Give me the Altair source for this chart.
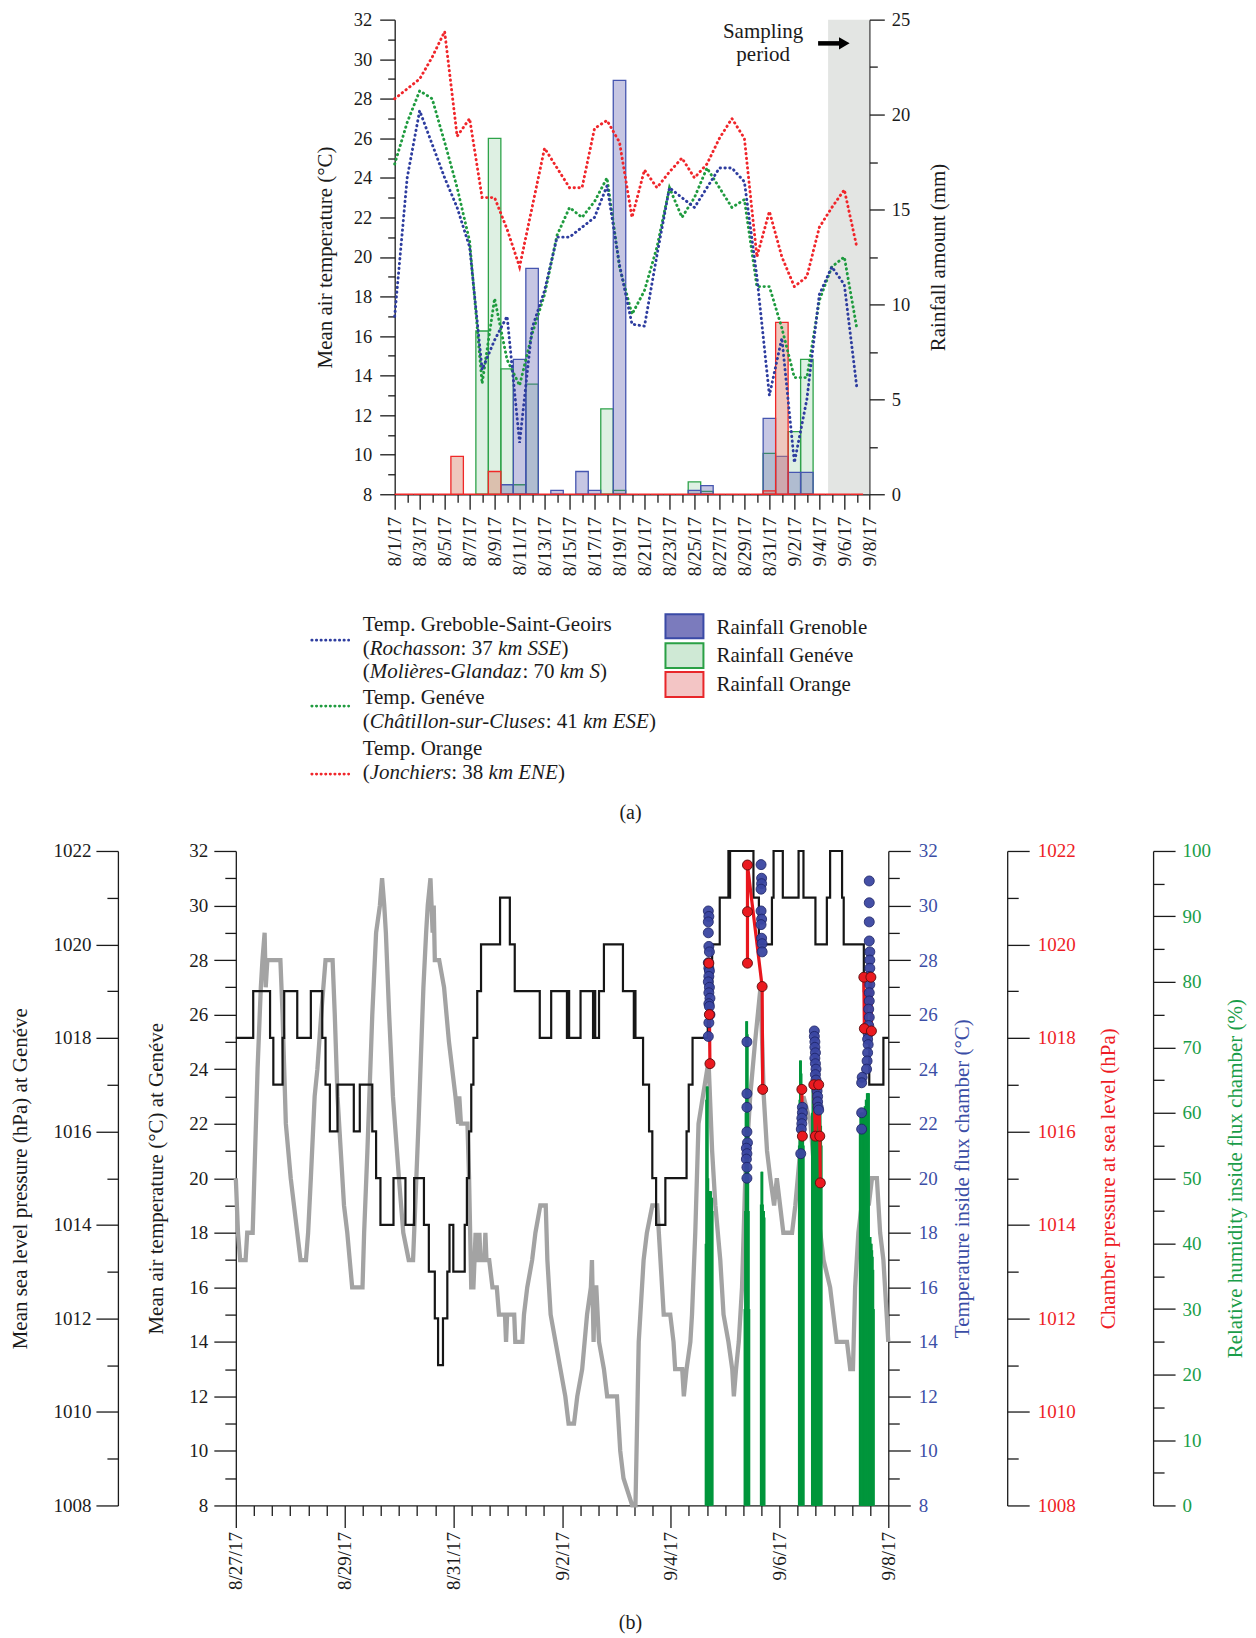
import json
import altair as alt
import pandas as pd

FONT = "Liberation Serif"
INK = "#1b1b1b"

# ====================== Panel (a): 8/1/17 - 9/8/17 ======================
A_TICK_LABELS = ["8/1/17", "8/3/17", "8/5/17", "8/7/17", "8/9/17", "8/11/17", "8/13/17",
                 "8/15/17", "8/17/17", "8/19/17", "8/21/17", "8/23/17", "8/25/17", "8/27/17",
                 "8/29/17", "8/31/17", "9/2/17", "9/4/17", "9/6/17", "9/8/17"]
A_DAYS = list(range(38))  # day offset from 8/1/17
TEMP_GRENOBLE = [17.0, 24.0, 27.4, 25.7, 24.0, 22.5, 20.5, 14.3, 15.8, 17.0, 10.6, 16.4, 18.3,
                 21.0, 21.0, 21.5, 22.0, 23.6, 19.6, 16.6, 16.5, 20.1, 23.5, 23.0, 22.5, 23.5,
                 24.5, 24.5, 23.8, 19.0, 13.0, 15.9, 9.6, 12.8, 18.1, 19.5, 18.6, 13.4]
TEMP_GENEVE = [24.7, 26.8, 28.4, 28.0, 25.8, 23.5, 20.8, 13.6, 17.9, 14.8, 13.5, 16.1, 18.1,
               21.1, 22.5, 22.0, 22.8, 24.0, 19.5, 17.1, 18.3, 20.5, 23.5, 22.0, 23.0, 24.5,
               23.5, 22.5, 22.9, 18.5, 18.5, 16.4, 13.9, 13.9, 17.8, 19.5, 20.0, 16.4]
TEMP_ORANGE = [28.0, 28.5, 29.0, 30.1, 31.4, 26.1, 27.0, 23.0, 23.0, 21.4, 19.5, 22.5, 25.5,
               24.5, 23.5, 23.5, 26.5, 26.9, 25.8, 22.0, 24.4, 23.5, 24.3, 25.0, 24.0, 24.7,
               26.0, 27.0, 26.0, 20.0, 22.3, 20.0, 18.5, 19.0, 21.5, 22.5, 23.4, 20.5]
RAIN_GRENOBLE = [0, 0, 0, 0, 0, 0, 0, 0, 0, 0.5, 7.1, 11.9, 0, 0.2, 0, 1.2, 0.2, 0, 21.8,
                 0, 0, 0, 0, 0, 0.2, 0.45, 0, 0, 0, 0, 4.0, 2.0, 1.15, 1.15, 0, 0, 0, 0]
RAIN_GENEVE = [0, 0, 0, 0, 0, 0, 0, 8.6, 18.75, 6.6, 0.5, 5.8, 0, 0, 0, 0, 0, 4.5, 0.2,
               0, 0, 0, 0, 0, 0.65, 0.15, 0, 0, 0, 0, 2.15, 0, 3.3, 7.1, 0, 0, 0, 0]
RAIN_ORANGE = [0, 0, 0, 0, 0, 2.0, 0, 0, 1.2, 0, 0, 0, 0, 0, 0, 0, 0, 0, 0,
               0, 0, 0, 0, 0, 0, 0, 0, 0, 0, 0, 0.18, 9.05, 0, 0, 0, 0, 0, 0]
SAMPLING_PERIOD = [34.7, 38.0]
NOTE_TEXT = "Sampling\nperiod"
NOTE_POS = [29.5, 31.35]
ARROW_SHAFT = [33.9, 35.7, 30.8]
ARROW_HEAD = [36.0, 30.8]

STATIONS = ["Genève", "Grenoble", "Orange"]
LINE_COLORS = ["#1f9b3f", "#2e3d9f", "#f0262b"]
BAR_FILL = ["#7cc48e", "#5a5aae", "#d9826b"]
BAR_FILL_OP = [0.25, 0.44, 0.32]
BAR_STROKE = ["#2ea34a", "#4656b0", "#f02828"]

# ====================== Panel (b): 8/27/17 - 9/8/17 ======================
B_TICK_LABELS = ["8/27/17", "8/29/17", "8/31/17", "9/2/17", "9/4/17", "9/6/17", "9/8/17"]
# Geneva air temperature (deg C), day offset from 8/27/17 00:00
GRAY_D = [0.00, 0.04, 0.08, 0.18, 0.21, 0.31, 0.34, 0.40, 0.46, 0.49, 0.53, 0.55, 0.58, 0.82,
          0.86, 0.89, 0.92, 1.01, 1.07, 1.13, 1.19, 1.29, 1.33, 1.38, 1.45, 1.50, 1.57, 1.65,
          1.78, 1.82, 1.87, 1.93, 1.99, 2.05, 2.14, 2.33, 2.36, 2.42, 2.51, 2.58, 2.65, 2.69,
          2.73, 2.76, 2.82, 2.89, 3.00, 3.08, 3.18, 3.26, 3.30, 3.36, 3.45, 3.50, 3.53, 3.58,
          3.62, 3.64, 3.66, 3.74, 3.83, 3.92, 4.04, 4.09, 4.11, 4.14, 4.26, 4.29, 4.33, 4.37,
          4.41, 4.43, 4.46, 4.48, 4.50, 4.57, 4.59, 4.61, 4.66, 4.72, 4.80, 4.84, 4.95, 4.97,
          4.99, 5.12, 5.14, 5.27, 5.30, 5.36, 5.45, 5.51, 5.60, 5.70, 5.73, 5.79, 5.88, 5.97,
          6.06, 6.12, 6.22, 6.28, 6.37, 6.46, 6.53, 6.55, 6.58, 6.60, 6.63, 6.68, 6.77, 6.83,
          7.01, 7.07, 7.13, 7.29, 7.35, 7.41, 7.50, 7.56, 7.66, 7.75, 7.87, 7.99, 8.05, 8.08,
          8.21, 8.24, 8.29, 8.36, 8.39, 8.45, 8.51, 8.67, 8.70, 8.76, 8.82, 8.91, 8.97, 9.06,
          9.13, 9.16, 9.20, 9.25, 9.31, 9.37, 9.46, 9.55, 9.65, 9.71, 9.77, 9.83, 9.90, 9.95,
          10.01, 10.07, 10.23, 10.29, 10.38, 10.44, 10.57, 10.69, 10.81, 10.93, 11.05, 11.24,
          11.30, 11.35, 11.39, 11.45, 11.51, 11.58, 11.64, 11.70, 11.79, 11.85, 11.91, 11.97,
          12.00]
GRAY_T = [20, 18, 17, 17, 18, 18, 20, 24, 27, 28, 29, 27, 28, 28,
          26, 24, 22, 20, 19, 18, 17, 17, 18, 20, 23, 24, 26, 28,
          28, 26, 23, 21, 19, 18, 16, 16, 18, 21, 26, 29, 30, 31,
          30, 29, 26, 23, 20, 18, 17, 17, 19, 22, 27, 29, 30, 31,
          29, 30, 28, 28, 27, 25, 23, 22, 23, 22, 22, 20, 16, 16,
          18, 17, 17, 18, 17, 17, 18, 17, 17, 16, 16, 15, 15, 14,
          15, 15, 14, 14, 15, 16, 17, 18, 19, 19, 17, 15, 14, 13,
          12, 11, 11, 12, 13, 15, 16, 17, 14, 16, 16, 14, 13, 12,
          12, 10, 9, 8, 8, 14, 17, 18, 19, 19, 15, 15, 14, 13,
          13, 12, 13, 14, 15, 18, 22, 24, 24, 21, 19, 17, 15, 14,
          13, 12, 13, 14, 16, 20, 23, 25, 27, 23, 21, 20, 19, 20,
          19, 18, 18, 19, 21, 23, 22, 19, 17, 16, 14, 14,
          13, 13, 16, 18, 19, 20, 19, 20, 20, 18, 17, 15,
          14]
# Geneva mean sea level pressure (hPa), stepped
PRESS_D = [0.00, 0.32, 0.63, 0.69, 0.86, 0.89, 1.13, 1.38, 1.59, 1.65, 1.73, 1.87, 2.17, 2.28,
           2.51, 2.58, 2.66, 2.90, 3.12, 3.28, 3.46, 3.55, 3.66, 3.72, 3.81, 3.89, 3.93, 4.00,
           4.21, 4.25, 4.29, 4.33, 4.37, 4.44, 4.51, 4.86, 5.04, 5.13, 5.59, 5.80, 6.09, 6.11,
           6.13, 6.34, 6.57, 6.60, 6.61, 6.68, 6.77, 7.12, 7.32, 7.34, 7.35, 7.49, 7.60, 7.66,
           7.73, 7.90, 8.29, 8.33, 8.40, 8.68, 8.76, 8.90, 9.06, 9.08, 9.09, 9.52, 9.62, 9.86,
           9.89, 10.06, 10.35, 10.44, 10.66, 10.87, 10.93, 11.15, 11.18, 11.55, 11.60, 11.65,
           11.91, 12.00]
PRESS_P = [1018, 1019, 1018, 1017, 1018, 1019, 1018, 1019, 1018, 1017, 1016, 1017, 1016, 1017,
           1016, 1015, 1014, 1015, 1014, 1015, 1014, 1013, 1012, 1011, 1012, 1013, 1014, 1013,
           1014, 1015, 1016, 1017, 1018, 1019, 1020, 1021, 1020, 1019, 1018, 1019, 1018, 1019,
           1018, 1019, 1018, 1019, 1018, 1019, 1020, 1019, 1018, 1019, 1018, 1017, 1016, 1015,
           1014, 1015, 1016, 1017, 1018, 1019, 1020, 1021, 1022, 1021, 1022, 1021, 1020, 1021,
           1022, 1021, 1022, 1021, 1020, 1021, 1022, 1021, 1020, 1019, 1018, 1017,
           1018, 1018]
# Temperature inside flux chamber (deg C)
CHT_D = [8.69, 8.70, 8.69, 8.69, 8.70, 8.71, 8.69, 8.70, 8.71, 8.70, 8.69, 8.71, 8.70, 8.72,
         8.70, 8.71, 8.72, 8.70, 8.69,
         9.40, 9.40, 9.40, 9.40, 9.41, 9.39, 9.40, 9.39, 9.40, 9.40,
         9.66, 9.67, 9.67, 9.66, 9.66, 9.67, 9.66, 9.67, 9.68, 9.68,
         10.42, 10.42, 10.41, 10.41, 10.40, 10.39,
         10.64, 10.64, 10.65, 10.65, 10.66, 10.65, 10.66, 10.67, 10.66, 10.67, 10.68, 10.69,
         10.70, 10.70, 10.71, 10.72,
         11.65, 11.65, 11.65, 11.65, 11.66, 11.66, 11.66, 11.65, 11.66, 11.65, 11.65, 11.64,
         11.65, 11.64, 11.63, 11.62, 11.63, 11.62, 11.61, 11.60, 11.52, 11.51, 11.51, 11.51]
CHT_T = [29.8, 29.6, 29.4, 29.0, 28.5, 28.3, 27.9, 27.7, 27.6, 27.4, 27.2, 27.0, 26.8, 26.6,
         26.4, 26.3, 26.0, 25.7, 25.2,
         25.0, 23.1, 22.6, 21.7, 21.3, 21.1, 20.9, 20.7, 20.4, 20.0,
         31.5, 31.0, 30.8, 30.6, 29.8, 29.5, 29.3, 28.8, 28.6, 28.3,
         22.6, 22.4, 22.2, 22.0, 21.8, 20.9,
         25.4, 25.2, 25.0, 24.8, 24.6, 24.4, 24.2, 24.0, 23.8, 23.6, 23.4, 23.2,
         23.0, 22.8, 22.6, 22.5,
         30.9, 30.1, 29.4, 28.7, 28.3, 28.0, 27.7, 27.4, 27.1, 26.8, 26.5, 26.2,
         25.9, 25.6, 25.3, 25.1, 24.9, 24.6, 24.3, 24.0, 23.7, 23.5, 22.4, 21.8]
# Chamber pressure at sea level (hPa)
CHP_D = [8.70, 8.71, 8.72, 9.41, 9.41, 9.41, 9.68, 9.69, 10.41, 10.42,
         10.63, 10.66, 10.72, 10.74, 10.75, 11.55, 11.56, 11.68, 11.69]
CHP_P = [1019.6, 1018.5, 1017.45, 1019.6, 1020.7, 1021.7, 1019.1, 1016.9, 1016.9, 1015.9,
         1017.0, 1015.9, 1017.0, 1015.9, 1014.9, 1019.3, 1018.2, 1019.3, 1018.15]
CHP_RUN = [1, 1, 1, 2, 2, 2, 2, 2, 3, 3, 4, 4, 4, 4, 4, 5, 5, 5, 5]
# Relative humidity inside flux chamber (%)
RH_D = [8.645, 8.655, 8.665, 8.675, 8.685, 8.695, 8.705, 8.715, 8.725, 8.735, 8.745, 8.755, 8.765,
        9.36, 9.37, 9.38, 9.39, 9.40, 9.41, 9.42, 9.43, 9.44,
        9.66, 9.67, 9.68, 9.69, 9.70, 9.71, 9.72,
        10.36, 10.37, 10.38, 10.39, 10.40, 10.41, 10.42, 10.43, 10.44,
        10.60, 10.61, 10.62, 10.63, 10.64, 10.65, 10.66, 10.67, 10.68, 10.69, 10.70, 10.71,
        10.72, 10.73, 10.74, 10.75, 10.76, 10.77,
        11.48, 11.49, 11.50, 11.51, 11.52, 11.53, 11.54, 11.55, 11.56, 11.57, 11.58, 11.59,
        11.60, 11.61, 11.62, 11.63, 11.64, 11.65, 11.66, 11.67, 11.68, 11.69, 11.70, 11.71,
        11.72, 11.73]
RH_V = [40, 62, 64, 64, 50, 48, 48, 48, 48, 48, 47, 47, 45,
        30, 45, 60, 74, 74, 72, 60, 45, 30,
        46, 51, 51, 46, 45, 45, 44,
        55, 62, 68, 68, 66, 62, 60, 58, 55,
        60, 64, 65, 65, 65, 65, 64, 64, 64, 63, 63, 63,
        62, 62, 61, 60, 58, 55,
        58, 60, 60, 60, 60, 60, 60, 60, 60, 61, 61, 62,
        62, 63, 63, 63, 63, 41, 41, 41, 40, 40, 39, 38,
        36, 30]

BLUE_C = "#3b4ea6"
RED_C = "#ee1c25"
GREEN_C = "#1a9d49"

# page layout (pixels)
A_LEFT, A_RIGHT, A_HEIGHT = 394, 869, 475
B_LEFT, B_RIGHT, B_HEIGHT = 235, 888, 655


def cond(test, a, b):
    return {"condition": {"test": test, "value": a}, "value": b}


def ax(**kw):
    base = dict(labelFont=FONT, titleFont=FONT, titleFontWeight="normal", labelColor=INK,
                titleColor=INK, tickColor=INK, domainColor=INK, tickWidth=1.3, domainWidth=1.3,
                grid=False, labelOverlap=False, labelFlush=False, labelBound=False)
    base.update(kw)
    return alt.Axis(**base)


# ---------------------------- Panel (a) ----------------------------
xA_axis = ax(values=list(range(39)),
             labelExpr=f"datum.value % 2 == 0 ? {json.dumps(A_TICK_LABELS)}[datum.value / 2] : ''",
             labelAngle=270, labelFontSize=19.5, labelPadding=7,
             tickSize=cond("datum.value % 2 == 0", 15, 8), title=None)


def xA(f):
    return alt.X(f"{f}:Q", scale=alt.Scale(domain=[0, 38], range=[A_LEFT, A_RIGHT], nice=False,
                                           zero=False, clamp=True), axis=xA_axis)


tempA_scale = alt.Scale(domain=[8, 32], nice=False, zero=False)
tempA_axis = ax(orient="left", offset=-A_LEFT, values=list(range(8, 33)),
                labelExpr="datum.value % 2 == 0 ? toString(datum.value) : ''",
                tickSize=cond("datum.value % 2 == 0", 15, 7), labelPadding=8, labelFontSize=18.5,
                title="Mean air temperature (°C)", titleFontSize=21, titlePadding=18)
rainA_axis = ax(orient="right", values=[i * 2.5 for i in range(11)],
                labelExpr="datum.value % 5 == 0 ? toString(datum.value) : ''",
                tickSize=cond("datum.value % 5 == 0", 15, 8), labelPadding=7, labelFontSize=18.5,
                title="Rainfall amount (mm)", titleFontSize=21, titleAngle=270,
                titleBaseline="top", titlePadding=18)

shade = alt.Chart(pd.DataFrame({"x0": [SAMPLING_PERIOD[0]], "x1": [SAMPLING_PERIOD[1]]})).mark_rect(
    color="#e3e5e3").encode(x=xA("x0"), x2="x1:Q")

rain_rows = []
for st, vals in zip(STATIONS, [RAIN_GENEVE, RAIN_GRENOBLE, RAIN_ORANGE]):
    for d, v in zip(A_DAYS, vals):
        if v > 0 or st == "Orange":
            rain_rows.append({"x0": d - 0.5, "x1": d + 0.5, "rain": v, "station": st})
bars = alt.Chart(pd.DataFrame(rain_rows)).mark_rect(strokeWidth=1.3).encode(
    x=xA("x0"), x2="x1:Q",
    y=alt.Y("rain:Q", scale=alt.Scale(domain=[0, 25], nice=False, zero=False), axis=rainA_axis),
    y2=alt.datum(0),
    fill=alt.Fill("station:N", scale=alt.Scale(domain=STATIONS, range=BAR_FILL), legend=None),
    stroke=alt.Stroke("station:N", scale=alt.Scale(domain=STATIONS, range=BAR_STROKE), legend=None),
    fillOpacity=alt.FillOpacity("station:N", scale=alt.Scale(domain=STATIONS, range=BAR_FILL_OP),
                                legend=None),
)

temp_rows = []
for st, vals in zip(STATIONS, [TEMP_GENEVE, TEMP_GRENOBLE, TEMP_ORANGE]):
    for d, v in zip(A_DAYS, vals):
        temp_rows.append({"day": d, "temp": v, "station": st})
linesA = alt.Chart(pd.DataFrame(temp_rows)).mark_line(
    strokeDash=[0.4, 4.4], strokeCap="round", strokeWidth=2.9).encode(
    x=xA("day"), y=alt.Y("temp:Q", scale=tempA_scale, axis=tempA_axis),
    color=alt.Color("station:N", scale=alt.Scale(domain=STATIONS, range=LINE_COLORS), legend=None),
)

note = alt.Chart(pd.DataFrame({"day": [NOTE_POS[0]], "temp": [NOTE_POS[1]], "t": [NOTE_TEXT]})).mark_text(
    font=FONT, fontSize=21, lineBreak="\n", lineHeight=23, color=INK).encode(
    x=xA("day"), y=alt.Y("temp:Q", scale=tempA_scale, axis=None), text="t:N")
shaft = alt.Chart(pd.DataFrame({"a": [ARROW_SHAFT[0]], "b": [ARROW_SHAFT[1]], "temp": [ARROW_SHAFT[2]]})).mark_rule(
    strokeWidth=4.5, color="black").encode(
    x=xA("a"), x2="b:Q", y=alt.Y("temp:Q", scale=tempA_scale, axis=None))
head = alt.Chart(pd.DataFrame({"a": [ARROW_HEAD[0]], "temp": [ARROW_HEAD[1]]})).mark_point(
    shape="triangle-right", filled=True, size=150, color="black", opacity=1).encode(
    x=xA("a"), y=alt.Y("temp:Q", scale=tempA_scale, axis=None))

panelA = alt.layer(shade, bars, linesA, note, shaft, head).resolve_scale(y="independent").properties(
    width=A_RIGHT, height=A_HEIGHT)

# ---------------------------- Panel (b) ----------------------------
xB_axis = ax(values=[i / 3 for i in range(37)],
             labelExpr=f"round(datum.value * 3) % 6 == 0 ? {json.dumps(B_TICK_LABELS)}[round(datum.value / 2)] : ''",
             labelAngle=270, labelFontSize=19, labelPadding=4,
             tickSize=cond("round(datum.value * 3) % 6 == 0", 22, 10), title=None)


def xB(f="d"):
    return alt.X(f"{f}:Q", scale=alt.Scale(domain=[0, 12], range=[B_LEFT, B_RIGHT], nice=False,
                                           zero=False, clamp=True), axis=xB_axis)


tscale = alt.Scale(domain=[8, 32], nice=False, zero=False)
pscale = alt.Scale(domain=[1008, 1022], nice=False, zero=False)
hscale = alt.Scale(domain=[0, 100], nice=False, zero=False)

tempB_axis = ax(orient="left", offset=-B_LEFT, values=list(range(8, 33)),
                labelExpr="datum.value % 2 == 0 ? toString(datum.value) : ''",
                tickSize=cond("datum.value % 2 == 0", 22, 11), labelPadding=6, labelFontSize=19,
                title="Mean air temperature (°C) at Genéve", titleFontSize=21, titlePadding=22)
presB_axis = ax(orient="left", offset=-B_LEFT + 118, values=list(range(1008, 1023)),
                labelExpr="datum.value % 2 == 0 ? toString(datum.value) : ''",
                tickSize=cond("datum.value % 2 == 0", 22, 11), labelPadding=5, labelFontSize=19,
                title="Mean sea level pressure (hPa) at Genéve", titleFontSize=21, titlePadding=22)
chtB_axis = ax(orient="right", values=list(range(8, 33)),
               labelExpr="datum.value % 2 == 0 ? toString(datum.value) : ''",
               tickSize=cond("datum.value % 2 == 0", 22, 11), labelPadding=8, labelFontSize=19,
               labelColor=BLUE_C, title="Temperature inside flux chamber (°C)", titleColor=BLUE_C,
               titleFontSize=21, titleAngle=270, titleBaseline="top", titlePadding=14)
chpB_axis = ax(orient="right", offset=119, values=list(range(1008, 1023)),
               labelExpr="datum.value % 2 == 0 ? toString(datum.value) : ''",
               tickSize=cond("datum.value % 2 == 0", 22, 11), labelPadding=8, labelFontSize=19,
               labelColor=RED_C, title="Chamber pressure at sea level (hPa)", titleColor=RED_C,
               titleFontSize=21, titleAngle=270, titleBaseline="top", titlePadding=22)
rhB_axis = ax(orient="right", offset=265, values=list(range(0, 101, 5)),
              labelExpr="datum.value % 10 == 0 ? toString(datum.value) : ''",
              tickSize=cond("datum.value % 10 == 0", 22, 11), labelPadding=7, labelFontSize=19,
              labelColor=GREEN_C, title="Relative humidity inside flux chamber (%)", titleColor=GREEN_C,
              titleFontSize=21, titleAngle=270, titleBaseline="top", titlePadding=14)

gray = alt.Chart(pd.DataFrame({"d": GRAY_D, "v": GRAY_T})).mark_line(
    color="#a3a3a3", strokeWidth=4.3).encode(
    x=xB(), y=alt.Y("v:Q", scale=tscale, axis=tempB_axis))
black = alt.Chart(pd.DataFrame({"d": PRESS_D, "v": PRESS_P})).mark_line(
    color="#161616", strokeWidth=2.2, interpolate="step-after").encode(
    x=xB(), y=alt.Y("v:Q", scale=pscale, axis=presB_axis))
rh = alt.Chart(pd.DataFrame({"d": RH_D, "v": RH_V})).mark_rule(
    color="#00963c", strokeWidth=2.4).encode(
    x=xB(), y=alt.Y("v:Q", scale=hscale, axis=rhB_axis), y2=alt.datum(0))
chp_df = pd.DataFrame({"d": CHP_D, "v": CHP_P, "run": CHP_RUN, "seq": list(range(len(CHP_D)))})
red_line = alt.Chart(chp_df).mark_line(color="#e8161d", strokeWidth=3.2).encode(
    x=xB(), y=alt.Y("v:Q", scale=pscale, axis=None), detail="run:N", order="seq:Q")
blue_pts = alt.Chart(pd.DataFrame({"d": CHT_D, "v": CHT_T})).mark_circle(
    size=100, color="#3a46a2", stroke="#1d2468", strokeWidth=0.9, opacity=0.95).encode(
    x=xB(), y=alt.Y("v:Q", scale=tscale, axis=chtB_axis))
red_pts = alt.Chart(chp_df).mark_circle(
    size=100, color="#ea1a20", stroke="#5c0b0b", strokeWidth=0.9, opacity=1).encode(
    x=xB(), y=alt.Y("v:Q", scale=pscale, axis=chpB_axis))

panelB = alt.layer(gray, black, rh, red_line, blue_pts, red_pts).resolve_scale(
    y="independent").properties(width=B_RIGHT, height=B_HEIGHT)

# ---------------------------- legend of panel (a) ----------------------------
ROMAN_W = {"(": 333, ")": 333, ":": 278, " ": 250, "0": 500, "1": 500, "2": 500, "3": 500,
           "4": 500, "5": 500, "6": 500, "7": 500, "8": 500, "9": 500}
ITALIC_W = {"R": 611, "o": 500, "c": 444, "h": 500, "a": 500, "s": 389, "n": 500, "k": 444,
            "m": 722, " ": 250, "S": 500, "E": 611, "M": 833, "l": 278, "i": 278, "è": 444,
            "r": 389, "e": 444, "-": 333, "G": 722, "d": 500, "z": 389, "C": 667, "â": 500,
            "t": 278, "u": 500, "J": 444, "N": 667}
LEG_FS = 21
LEGEND_LINES = [
    [("Temp. Greboble-Saint-Geoirs", False)],
    [("(", False), ("Rochasson", True), (": 37 ", False), ("km SSE", True), (")", False)],
    [("(", False), ("Molières-Glandaz", True), (": 70 ", False), ("km S", True), (")", False)],
    [("Temp. Genéve", False)],
    [("(", False), ("Châtillon-sur-Cluses", True), (": 41 ", False), ("km ESE", True), (")", False)],
    [("Temp. Orange", False)],
    [("(", False), ("Jonchiers", True), (": 38 ", False), ("km ENE", True), (")", False)],
]
LEGEND_LINE_Y = [131, 155, 178, 204, 228, 255, 279]
LEGEND_TEXT_X = 362
LINE_SAMPLE_X = [311, 348]
LINE_SAMPLE_Y = [146, 212, 280]
LINE_SAMPLE_C = [LINE_COLORS[1], LINE_COLORS[0], LINE_COLORS[2]]
SWATCH_X = [665, 703]
SWATCH_Y = [(120, 144), (149, 174), (178, 203)]
SWATCH_FILL = ["#7b7bbd", "#cfe9d5", "#f3c5c5"]
SWATCH_STROKE = ["#3a4aa6", "#2aa045", "#e8262a"]
SWATCH_LABELS = ["Rainfall Grenoble", "Rainfall Genéve", "Rainfall Orange"]
SWATCH_LABEL_X = 716
SWATCH_LABEL_Y = [134, 162, 191]

rom, ita = [], []
for segs, y in zip(LEGEND_LINES, LEGEND_LINE_Y):
    x = LEGEND_TEXT_X
    for text, is_it in segs:
        (ita if is_it else rom).append({"px": x, "py": y, "t": text})
        table = ITALIC_W if is_it else ROMAN_W
        x += sum(table.get(ch, 500) for ch in text) / 1000 * LEG_FS
for lab, y in zip(SWATCH_LABELS, SWATCH_LABEL_Y):
    rom.append({"px": SWATCH_LABEL_X, "py": y, "t": lab})

PX = alt.X("px:Q", scale=None)
PY = alt.Y("py:Q", scale=None)
leg_rom = alt.Chart(pd.DataFrame(rom)).mark_text(
    font=FONT, fontSize=LEG_FS, align="left", baseline="middle", color=INK).encode(x=PX, y=PY, text="t:N")
leg_ita = alt.Chart(pd.DataFrame(ita)).mark_text(
    font=FONT, fontSize=LEG_FS, fontStyle="italic", align="left", baseline="middle", color=INK).encode(
    x=PX, y=PY, text="t:N")
leg_lines = alt.Chart(pd.DataFrame({"px": [LINE_SAMPLE_X[0]] * 3, "px2": [LINE_SAMPLE_X[1]] * 3,
                                    "py": LINE_SAMPLE_Y, "c": LINE_SAMPLE_C})).mark_rule(
    strokeDash=[0.4, 4.2], strokeCap="round", strokeWidth=2.7).encode(
    x=PX, x2="px2:Q", y=PY, color=alt.Color("c:N", scale=None))
leg_sw = alt.Chart(pd.DataFrame({"px": [SWATCH_X[0]] * 3, "px2": [SWATCH_X[1]] * 3,
                                 "py": [a for a, b in SWATCH_Y], "py2": [b for a, b in SWATCH_Y],
                                 "f": SWATCH_FILL, "s": SWATCH_STROKE})).mark_rect(strokeWidth=2).encode(
    x=PX, x2="px2:Q", y=PY, y2="py2:Q", fill=alt.Fill("f:N", scale=None), stroke=alt.Stroke("s:N", scale=None))
cap_a = alt.Chart(pd.DataFrame({"px": [630], "py": [319], "t": ["(a)"]})).mark_text(
    font=FONT, fontSize=20, baseline="middle", color=INK).encode(x=PX, y=PY, text="t:N")
legend = alt.layer(leg_sw, leg_lines, leg_rom, leg_ita, cap_a).properties(width=1256, height=357)

cap_b = alt.Chart(pd.DataFrame({"px": [630], "py": [118], "t": ["(b)"]})).mark_text(
    font=FONT, fontSize=20, baseline="middle", color=INK).encode(x=PX, y=PY, text="t:N")
cap_b = cap_b.properties(width=1256, height=133)

top = alt.Chart(pd.DataFrame({"v": [0]})).mark_point(size=1, opacity=0).encode(
    x=alt.value(0), y=alt.value(0)).properties(width=1, height=18)

chart = alt.vconcat(top, panelA, legend, panelB, cap_b, spacing=0, bounds="flush",
                    padding=0).configure_view(stroke=None)

chart.save("out.html", embed_options={"renderer": "svg", "actions": False})
